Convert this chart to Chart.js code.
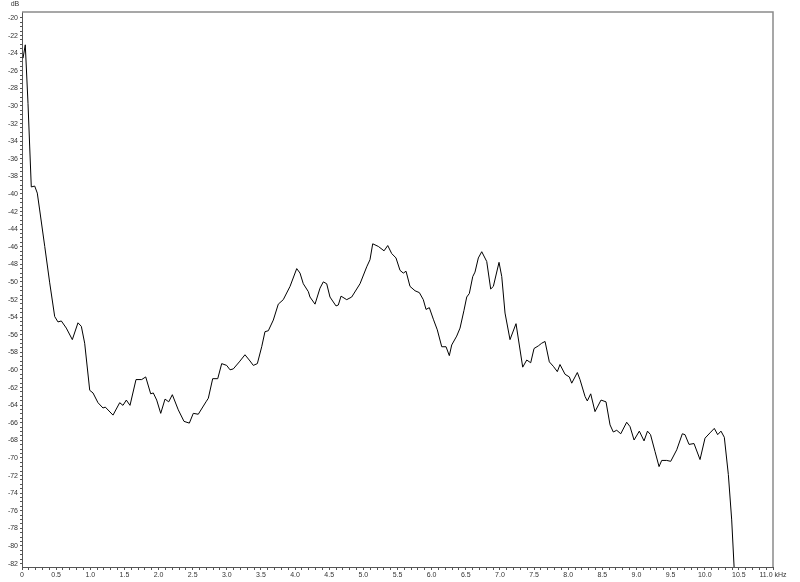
<!DOCTYPE html>
<html>
<head>
<meta charset="utf-8">
<script src="https://cdn.jsdelivr.net/npm/chart.js@4/dist/chart.umd.min.js"></script>
<style>
  html, body { margin: 0; padding: 0; background: #ffffff; }
  canvas { display: block; }
</style>
</head>
<body>
<canvas id="c" width="800" height="582"></canvas>
<script>
// Frequency (kHz) of each traced point
const freqKHz = [
  0.015, 0.048, 0.088, 0.113, 0.136, 0.186, 0.224, 0.259, 0.333, 0.406,
  0.479, 0.527, 0.576, 0.649, 0.737, 0.820, 0.869, 0.918, 0.992, 1.040,
  1.113, 1.186, 1.220, 1.333, 1.431, 1.479, 1.528, 1.582, 1.670, 1.753,
  1.812, 1.885, 1.923, 1.973, 2.032, 2.095, 2.149, 2.202, 2.289, 2.373,
  2.451, 2.509, 2.582, 2.695, 2.729, 2.793, 2.867, 2.925, 2.998, 3.047,
  3.095, 3.183, 3.266, 3.340, 3.388, 3.447, 3.511, 3.559, 3.608, 3.681,
  3.754, 3.827, 3.926, 4.024, 4.072, 4.120, 4.194, 4.218, 4.292, 4.365,
  4.413, 4.463, 4.511, 4.599, 4.633, 4.673, 4.756, 4.829, 4.951, 5.049,
  5.097, 5.137, 5.219, 5.303, 5.357, 5.415, 5.478, 5.537, 5.585, 5.625,
  5.683, 5.757, 5.820, 5.878, 5.918, 5.966, 6.025, 6.083, 6.148, 6.211,
  6.259, 6.294, 6.367, 6.416, 6.474, 6.514, 6.552, 6.602, 6.635, 6.684,
  6.734, 6.807, 6.865, 6.904, 6.987, 7.027, 7.075, 7.148, 7.236, 7.334,
  7.393, 7.451, 7.500, 7.563, 7.612, 7.661, 7.724, 7.782, 7.841, 7.880,
  7.954, 8.017, 8.052, 8.134, 8.173, 8.247, 8.280, 8.330, 8.393, 8.481,
  8.554, 8.613, 8.661, 8.711, 8.770, 8.857, 8.906, 8.965, 9.042, 9.111,
  9.162, 9.206, 9.272, 9.331, 9.370, 9.443, 9.502, 9.590, 9.672, 9.711,
  9.770, 9.843, 9.931, 10.004, 10.077, 10.140, 10.190, 10.238, 10.287, 10.346,
  10.395, 10.440
];
// Level (dB) of each traced point
const levelDB = [
  -24.57, -23.05, -29.71, -34.66, -39.20, -39.10, -39.90, -41.82, -45.96, -50.10,
  -53.93, -54.54, -54.43, -55.24, -56.55, -54.64, -55.04, -56.96, -62.31, -62.61,
  -63.72, -64.32, -64.22, -65.13, -63.72, -64.02, -63.42, -64.02, -61.09, -61.09,
  -60.79, -62.71, -62.61, -63.42, -64.93, -63.31, -63.62, -62.81, -64.53, -65.84,
  -66.04, -64.93, -65.03, -63.62, -63.21, -60.99, -60.99, -59.28, -59.48, -59.98,
  -59.88, -59.08, -58.27, -58.98, -59.48, -59.28, -57.36, -55.65, -55.54, -54.33,
  -52.52, -52.01, -50.50, -48.48, -48.99, -50.20, -51.10, -51.71, -52.52, -50.70,
  -49.99, -50.20, -51.71, -52.72, -52.62, -51.61, -52.01, -51.71, -50.20, -48.28,
  -47.47, -45.66, -45.96, -46.46, -45.86, -46.77, -47.27, -48.68, -48.99, -48.78,
  -50.50, -51.00, -51.21, -52.01, -53.12, -52.92, -54.23, -55.44, -57.36, -57.36,
  -58.37, -57.16, -56.15, -55.24, -53.22, -51.71, -51.31, -49.39, -48.88, -47.27,
  -46.56, -47.67, -50.80, -50.50, -47.77, -49.39, -53.53, -56.55, -54.74, -59.68,
  -58.87, -59.18, -57.56, -57.26, -56.96, -56.76, -59.08, -59.58, -60.19, -59.38,
  -60.49, -60.79, -61.50, -60.29, -61.09, -63.01, -63.52, -62.71, -64.73, -63.42,
  -63.62, -66.24, -67.05, -66.85, -67.25, -65.94, -66.44, -67.96, -66.95, -68.06,
  -66.95, -67.35, -69.27, -70.98, -70.28, -70.28, -70.38, -69.07, -67.25, -67.35,
  -68.46, -68.36, -70.18, -67.75, -67.15, -66.64, -67.35, -66.95, -67.65, -71.89,
  -77.04, -83.90
];
// Axis ranges and labels
const xRange = [0, 11];
const yRange = [-82.39, -19.32];
const yTickRange = [-82, -20];
const xUnit = 'kHz';
const yUnit = 'dB';

const points = freqKHz.map((f, i) => ({ x: f, y: levelDB[i] }));

const FONT = { family: 'Liberation Sans, Arial, sans-serif', size: 7 };
const TEXT = '#333333';

const framePlugin = {
  id: 'frame',
  afterDraw(chart) {
    const { ctx, chartArea: a } = chart;
    ctx.save();
    ctx.strokeStyle = '#8a8a8a';
    ctx.lineWidth = 1.5;
    ctx.beginPath();
    ctx.moveTo(a.left, a.top);
    ctx.lineTo(a.right, a.top);
    ctx.lineTo(a.right, a.bottom);
    ctx.stroke();
    // unit label at the top of the y axis
    const y = chart.scales.y;
    ctx.fillStyle = TEXT;
    ctx.font = FONT.size + 'px ' + FONT.family;
    ctx.textAlign = 'center';
    ctx.textBaseline = 'middle';
    ctx.fillText(yUnit, y.right - 7, y.top - 8);
    ctx.restore();
  }
};

new Chart(document.getElementById('c'), {
  type: 'line',
  data: {
    datasets: [{
      data: points,
      borderColor: '#000000',
      borderWidth: 1,
      pointRadius: 0,
      tension: 0,
      fill: false
    }]
  },
  options: {
    responsive: false,
    animation: false,
    layout: { padding: { top: 12, right: 27, bottom: 0, left: 0 } },
    plugins: { legend: { display: false }, tooltip: { enabled: false }, title: { display: false } },
    scales: {
      x: {
        type: 'linear',
        min: xRange[0],
        max: xRange[1],
        afterFit(s) { s.height = 15; },
        border: { display: true, color: '#555555', width: 1 },
        grid: { drawOnChartArea: false, drawTicks: true, tickLength: 3, color: '#555555' },
        ticks: {
          stepSize: 0.1,
          autoSkip: false,
          maxRotation: 0,
          padding: 1,
          color: TEXT,
          font: FONT,
          callback(v) {
            const h = v * 2;
            if (Math.abs(h - Math.round(h)) > 1e-6) return '';
            if (Math.abs(v) < 1e-9) return '0';
            const s = v.toFixed(1);
            return Math.abs(v - xRange[1]) < 1e-6 ? s + ' ' + xUnit : s;
          }
        }
      },
      y: {
        type: 'linear',
        min: yRange[0],
        max: yRange[1],
        afterFit(s) { s.width = 22; },
        afterBuildTicks(s) {
          const t = [];
          for (let k = yTickRange[0] * 2; k <= yTickRange[1] * 2; k++) t.push({ value: k / 2 });
          s.ticks = t;
        },
        border: { display: true, color: '#555555', width: 1 },
        grid: { drawOnChartArea: false, drawTicks: true, tickLength: 2, color: '#555555' },
        ticks: {
          autoSkip: false,
          padding: 2,
          color: TEXT,
          font: FONT,
          callback(v) {
            if (Math.abs(v / 2 - Math.round(v / 2)) > 1e-6) return '';
            return String(Math.round(v));
          }
        }
      }
    }
  },
  plugins: [framePlugin]
});
</script>
</body>
</html>
